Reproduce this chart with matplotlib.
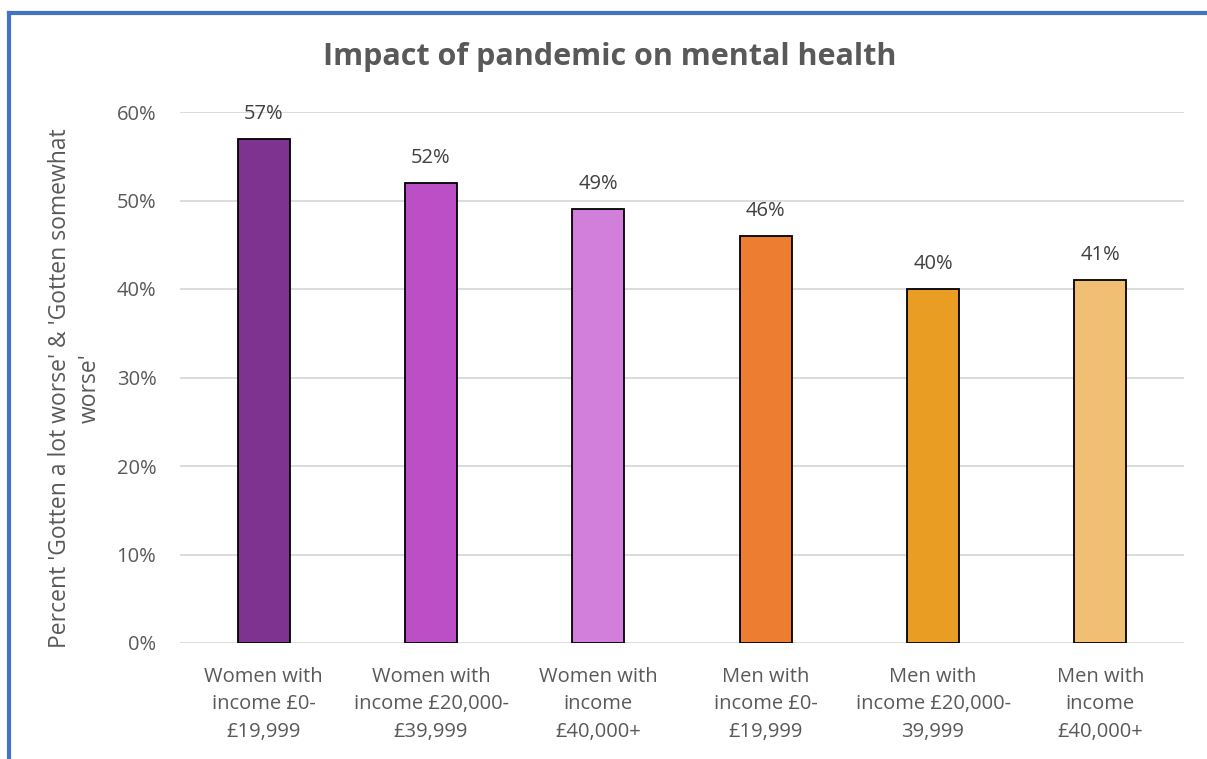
import matplotlib.pyplot as plt
from matplotlib.lines import Line2D
from matplotlib.ticker import PercentFormatter

plt.rcParams['font.family'] = ['Open Sans', 'DejaVu Sans']

# data
groups = ["Women with\nincome £0-\n£19,999", "Women with\nincome £20,000-\n£39,999",
          "Women with\nincome\n£40,000+", "Men with\nincome £0-\n£19,999",
          "Men with\nincome £20,000-\n39,999", "Men with\nincome\n£40,000+"]
worse_pct = [57, 52, 49, 46, 40, 41]
bar_colors = ["#7F3391", "#BC4EC6", "#D27FDC", "#ED7D31", "#E99E23", "#F1BF73"]

txt = "#595959"

fig = plt.figure(figsize=(12.07, 7.59), dpi=100)
ax = fig.add_axes([180/1207, 1 - 643/759, 1004/1207, (643 - 112)/759])

x = range(len(groups))
ax.bar(x, worse_pct, width=0.31, color=bar_colors, edgecolor="black", linewidth=1.3, zorder=3)
for i, v in enumerate(worse_pct):
    ax.text(i, v + 1.7, f"{v}%", ha="center", va="bottom", fontsize=14.5, color="#404040")

ax.set_xlim(-0.5, len(groups) - 0.5)
ax.set_ylim(0, 60)
ax.set_yticks(range(0, 61, 10))
ax.yaxis.set_major_formatter(PercentFormatter(decimals=0))
ax.set_xticks(list(x))
ax.set_xticklabels(groups, fontsize=14.5, color=txt, linespacing=1.5)
ax.tick_params(axis="y", labelsize=14.5, labelcolor=txt, length=0, pad=17)
ax.tick_params(axis="x", length=0, pad=17)
ax.grid(axis="y", color="#D9D9D9", linewidth=1.3, zorder=0)
for s in ax.spines.values():
    s.set_visible(False)

ax.set_ylabel("Percent 'Gotten a lot worse' & 'Gotten somewhat\nworse'",
              fontsize=16.5, color=txt, linespacing=1.33)
ax.yaxis.set_label_coords(-0.078, 0.48)
fig.text(610/1207, 1 - 57/759, "Impact of pandemic on mental health", ha="center", va="center",
         fontsize=22, fontweight="bold", color=txt)

# blue frame around the chart (left and top visible)
fig.add_artist(Line2D([9/1207, 9/1207], [0, 1 - 13/759], color="#4472C4", linewidth=3, transform=fig.transFigure))
fig.add_artist(Line2D([9/1207, 1], [1 - 13/759, 1 - 13/759], color="#4472C4", linewidth=3, transform=fig.transFigure))

fig.savefig("out.png", dpi=100)
